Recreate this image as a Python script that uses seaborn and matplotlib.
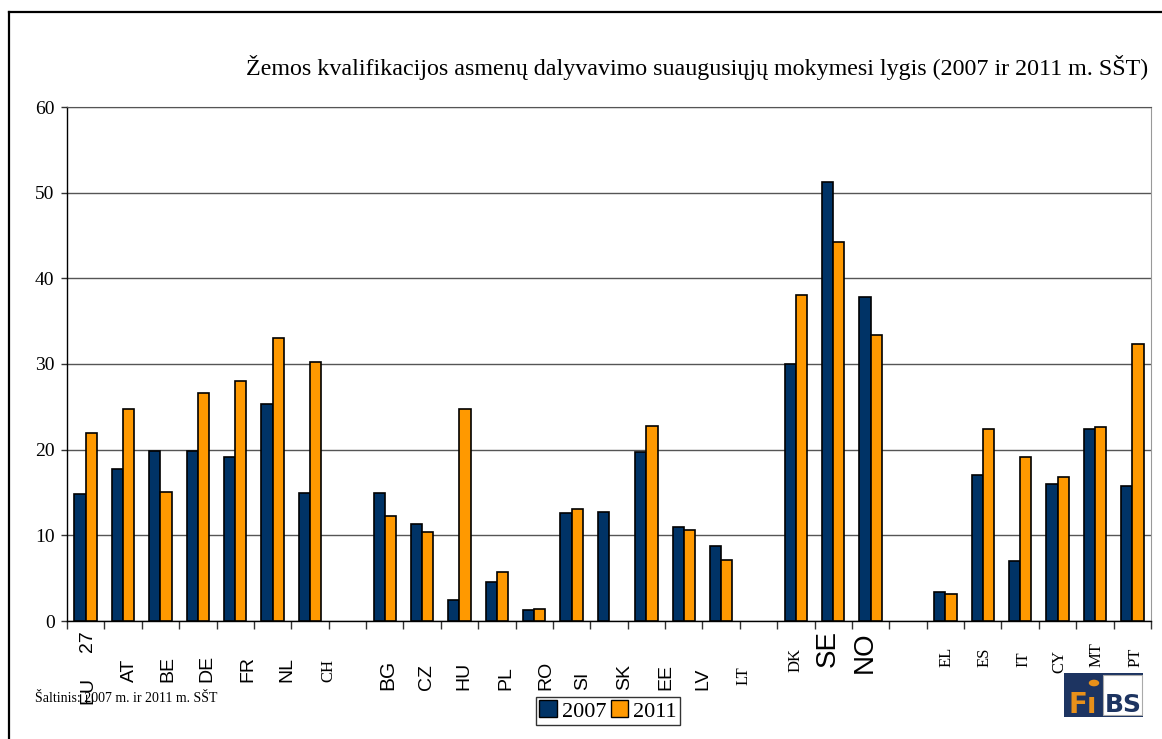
import numpy as np
import pandas as pd
import matplotlib
matplotlib.use('Agg')
import matplotlib.pyplot as plt
import matplotlib.transforms as mtransforms
from matplotlib.patches import Rectangle, Circle, Patch
from matplotlib.lines import Line2D
import seaborn as sns

# chart data
title = 'Žemos kvalifikacijos asmenų dalyvavimo suaugusiųjų mokymesi lygis (2007 ir 2011 m. SŠT)'
source = 'Šaltinis: 2007 m. ir 2011 m. SŠT'
years = ['2007', '2011']

# '_1', '_2', '_3' are empty spacer categories between country groups
categories = ['EU 27', 'AT', 'BE', 'DE', 'FR', 'NL', 'CH', '_1',
              'BG', 'CZ', 'HU', 'PL', 'RO', 'SI', 'SK', 'EE', 'LV', 'LT', '_2',
              'DK', 'SE', 'NO', '_3',
              'EL', 'ES', 'IT', 'CY', 'MT', 'PT']
v2007 = [14.8, 17.7, 19.8, 19.9, 19.1, 25.3, 15.0, np.nan,
         15.0, 11.3, 2.5, 4.6, 1.3, 12.6, 12.7, 19.7, 11.0, 8.7, np.nan,
         30.0, 51.2, 37.8, np.nan,
         3.4, 17.0, 7.0, 16.0, 22.4, 15.8]
v2011 = [22.0, 24.8, 15.1, 26.6, 28.0, 33.0, 30.2, np.nan,
         12.2, 10.4, 24.7, 5.7, 1.4, 13.1, np.nan, 22.8, 10.6, 7.1, np.nan,
         38.0, 44.2, 33.4, np.nan,
         3.1, 22.4, 19.1, 16.8, 22.6, 32.3]

df = pd.DataFrame({'cat': categories * 2,
                   'year': [years[0]] * len(categories) + [years[1]] * len(categories),
                   'value': v2007 + v2011})

NAVY = '#003366'
ORANGE = '#FF9900'
W, H = 1162, 739


def fx(px):
    return px / W


def fy(py):
    return 1 - py / H


fig = plt.figure(figsize=(W / 100, H / 100), dpi=100)
ax = fig.add_axes([fx(67), fy(621), fx(1151) - fx(67), fy(107) - fy(621)])

sns.barplot(data=df, x='cat', y='value', hue='year', order=categories,
            hue_order=years, palette=[NAVY, ORANGE], saturation=1, width=0.6,
            edgecolor='black', linewidth=1.2, errorbar=None, legend=False,
            zorder=3, ax=ax)

ax.set_xlim(-0.5, len(categories) - 0.5)
ax.set_ylim(0, 60)
ax.set_xlabel('')
ax.set_ylabel('')
ax.set_yticks(range(0, 61, 10))
ax.set_yticklabels([str(v) for v in range(0, 61, 10)], family='Liberation Serif', fontsize=14)
ax.tick_params(axis='y', length=4, width=1, pad=5, color='#333333')
ax.yaxis.grid(True, color='#555555', linewidth=1, zorder=0)
ax.set_axisbelow(True)

# category boundary ticks, no labels on the axis itself
ax.set_xticks([])
ax.set_xticks(np.arange(-0.5, len(categories), 1), minor=True)
ax.tick_params(axis='x', which='minor', length=6, width=1, color='#333333')

for s in ['left', 'bottom']:
    ax.spines[s].set_color('black')
    ax.spines[s].set_linewidth(1)
ax.spines['top'].set_color('#555555')
ax.spines['right'].set_color('#999999')

# country labels (rotated, bottom aligned like the source image)
sans = 'Liberation Sans'
serif = 'Liberation Serif'
label_style = {
    'AT': (sans, 14, 682, 0.16), 'BE': (sans, 14, 682, 0.19), 'DE': (sans, 14, 682, 0.24),
    'FR': (sans, 14, 682, 0.35), 'NL': (sans, 14, 682, 0.37), 'CH': (serif, 12, 682, 0.48),
    'BG': (sans, 15, 690, 0.08), 'CZ': (sans, 14, 690, 0.13), 'HU': (sans, 14, 690, 0.13),
    'PL': (sans, 14, 690, 0.24), 'RO': (sans, 14, 690, 0.32), 'SI': (sans, 14, 690, 0.29),
    'SK': (sans, 14, 690, 0.43), 'EE': (sans, 14, 690, 0.51), 'LV': (sans, 14, 690, 0.51),
    'LT': (serif, 12, 685, 0.61),
    'DK': (serif, 12, 672, 0.0), 'SE': (sans, 20, 667, -0.15), 'NO': (sans, 20, 673, -0.15),
    'EL': (serif, 12, 667, 0.03), 'ES': (serif, 12, 667, 0.05), 'IT': (serif, 12, 667, 0.08),
    'CY': (serif, 12, 673, 0.05), 'MT': (serif, 12, 667, 0.03), 'PT': (serif, 12, 667, 0.08),
}
trans = mtransforms.blended_transform_factory(ax.transData, fig.transFigure)
for i, c in enumerate(categories):
    if c in label_style:
        fam, size, bottom, nudge = label_style[c]
        ax.text(i + nudge, fy(bottom), c, rotation=90, ha='center', va='bottom',
                family=fam, fontsize=size, transform=trans, clip_on=False)

# source note, then "EU 27" drawn over it as in the original
fig.text(fx(35), fy(699), source, family=serif, fontsize=10, va='center', ha='left')
ax.text(0.05, fy(652), '27', rotation=90, ha='center', va='bottom',
        family=sans, fontsize=14, transform=trans, clip_on=False)
ax.text(0.05, fy(704), 'EU', rotation=90, ha='center', va='bottom',
        family=sans, fontsize=14, transform=trans, clip_on=False)

# title, sized to span the same width as the original
t = fig.text(fx(1148), fy(67), title, family=serif, fontsize=18, ha='right', va='center')
fig.canvas.draw()
w = t.get_window_extent().width
t.set_fontsize(18 * (1148 - 245) / w)

# legend
handles = [Patch(facecolor=NAVY, edgecolor='black', label=years[0]),
           Patch(facecolor=ORANGE, edgecolor='black', label=years[1])]
leg = fig.legend(handles=handles, loc='center', bbox_to_anchor=(fx(608), fy(711)),
                 ncol=2, frameon=True, fancybox=False, edgecolor='black',
                 prop={'family': serif, 'size': 16}, handlelength=0.8, handleheight=0.8,
                 handletextpad=0.2, columnspacing=0.2, borderpad=0.15, borderaxespad=0)
leg.get_frame().set_linewidth(1)

# outer frame
fig.add_artist(Line2D([fx(9), fx(9)], [fy(12), 0], color='black', lw=1.6, transform=fig.transFigure))
fig.add_artist(Line2D([fx(9), 1], [fy(12), fy(12)], color='black', lw=1.6, transform=fig.transFigure))

# FiBS logo
LOGO_NAVY = '#1D3461'
LOGO_ORANGE = '#E8901A'
fig.add_artist(Rectangle((fx(1064), fy(717)), fx(1143) - fx(1064), fy(673) - fy(717),
                         facecolor=LOGO_NAVY, edgecolor='none', transform=fig.transFigure))
fig.add_artist(Rectangle((fx(1103), fy(715)), fx(1142) - fx(1103), fy(675) - fy(715),
                         facecolor='white', edgecolor='#aaaaaa', lw=0.8, transform=fig.transFigure))
fig.text(fx(1083), fy(713), 'F\u0131', family='DejaVu Sans', weight='bold', fontsize=20,
         color=LOGO_ORANGE, ha='center', va='baseline')
fig.add_artist(Circle((fx(1094), fy(683)), 0.0045, facecolor=LOGO_ORANGE, edgecolor='none',
                      transform=fig.transFigure))
fig.text(fx(1123), fy(712), 'BS', family='DejaVu Sans', weight='bold', fontsize=18,
         color=LOGO_NAVY, ha='center', va='baseline')

fig.savefig('out.png', dpi=100)
